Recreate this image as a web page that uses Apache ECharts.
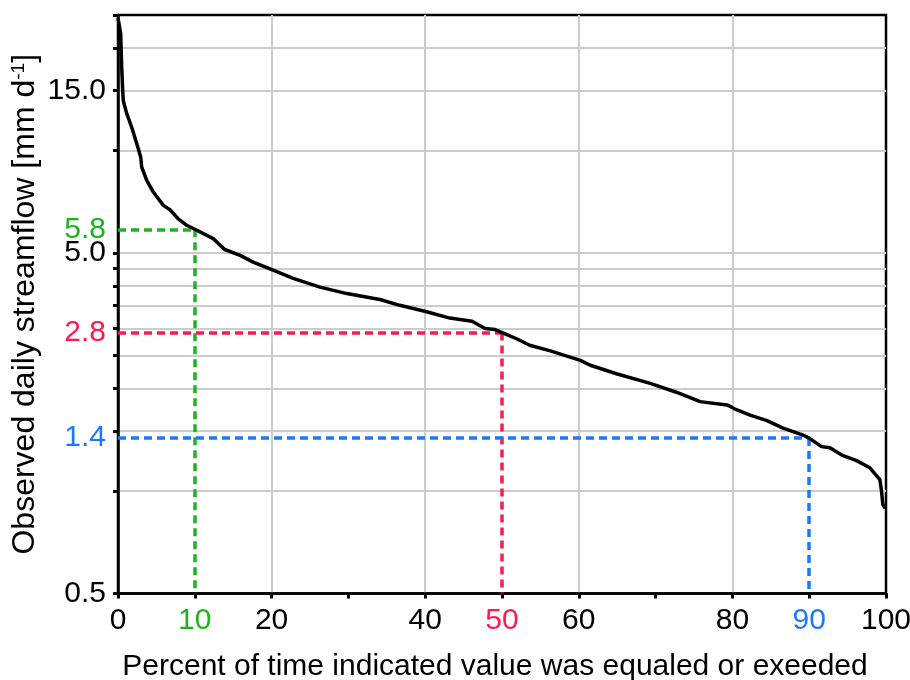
<!DOCTYPE html>
<html>
<head>
<meta charset="utf-8">
<script src="https://cdn.jsdelivr.net/npm/echarts@6/dist/echarts.min.js"></script>
<style>html,body{margin:0;padding:0;background:#fff}#c{width:910px;height:680px}</style>
</head>
<body>
<div id="c"></div>
<script>
// Flow duration curve
const percentExceeded = [0, 0.35, 0.48, 0.61, 0.69, 1.13, 1.78, 2.43, 2.96, 3.09, 3.74, 4.6, 5.9, 6.77, 7.85, 8.95, 10.0, 12.4, 13.9, 15.9, 17.6, 20.2, 22.8, 26.3, 29.8, 34.1, 36.7, 40.2, 43.2, 46.1, 47.8, 49.1, 50.0, 51.9, 53.6, 56.3, 60.2, 61.5, 64.9, 69.3, 72.7, 75.8, 79.3, 80.6, 82.3, 84.5, 86.6, 89.2, 90.0, 91.6, 92.7, 94.4, 96.1, 97.9, 99.2, 99.4, 99.6, 99.9];
const streamflow = [24.5, 22.0, 17.6, 15.0, 14.0, 12.85, 11.7, 10.5, 9.56, 8.94, 8.17, 7.55, 6.9, 6.7, 6.3, 6.03, 5.87, 5.51, 5.12, 4.92, 4.70, 4.45, 4.21, 3.97, 3.80, 3.65, 3.51, 3.36, 3.22, 3.15, 3.0, 2.98, 2.92, 2.80, 2.68, 2.58, 2.42, 2.34, 2.21, 2.07, 1.95, 1.83, 1.79, 1.73, 1.67, 1.61, 1.53, 1.46, 1.43, 1.35, 1.34, 1.27, 1.23, 1.17, 1.08, 1.006, 0.91, 0.89];

// Reference exceedance levels
const refPercent = [10, 50, 90];
const refLabels = ['5.8', '2.8', '1.4'];
const refColors = ['#1db51d', '#ff1a4d', '#1a78ff'];

// Axis ticks
const yTickValues = [0.5, 1, 1.5, 2, 2.5, 3, 3.5, 4, 4.5, 5, 10, 15, 20, 25];
const yLabelValues = [0.5, 5, 15];
const xLabelValues = [0, 10, 20, 40, 50, 60, 80, 90, 100];

const curve = percentExceeded.map((p, i) => [p, streamflow[i]]);
const yMin = 0.5;
const FONT = 'Liberation Sans';
const TICK_FS = 30;

const markData = [];
refPercent.forEach((p, k) => {
  const idx = percentExceeded.indexOf(p);
  const v = streamflow[idx];
  const ls = {color: refColors[k], width: 3.5, type: [8, 5]};
  markData.push([
    {coord: [0, v], lineStyle: ls,
     label: {show: true, position: 'start', formatter: refLabels[k], color: refColors[k], fontSize: TICK_FS, distance: 12, fontFamily: FONT}},
    {coord: [p, v]}
  ]);
  markData.push([
    {coord: [p, v], lineStyle: ls, label: {show: false}},
    {coord: [p, yMin]}
  ]);
});

const xColor = {10: 'g', 50: 'r', 90: 'b'};

const chart = echarts.init(document.getElementById('c'), null, {renderer: 'canvas'});
chart.setOption({
  animation: false,
  backgroundColor: '#fff',
  textStyle: {fontFamily: FONT},
  grid: {left: 118, right: 24, top: 15, bottom: 86.5, show: true, borderColor: '#000', borderWidth: 2.5, backgroundColor: 'transparent', containLabel: false, outerBoundsMode: 'none'},
  xAxis: {
    type: 'value', min: 0, max: 100, interval: 20,
    name: 'Percent of time indicated value was equaled or exeeded',
    nameLocation: 'middle', nameGap: 58,
    nameTextStyle: {fontSize: 30, color: '#000', fontFamily: FONT, padding: [0, 14, 0, 0]},
    axisLine: {show: true, lineStyle: {color: '#000', width: 2.5}},
    axisTick: {show: true, length: 5, lineStyle: {color: '#000', width: 3}},
    minorTick: {show: true, splitNumber: 2, length: 5, lineStyle: {color: '#000', width: 3}},
    splitLine: {show: true, showMinLine: false, showMaxLine: false, lineStyle: {color: '#cccccc', width: 2}},
    minorSplitLine: {show: false},
    axisLabel: {
      customValues: xLabelValues, margin: 12, fontSize: TICK_FS, color: '#000', fontFamily: FONT,
      formatter: v => xColor[v] ? '{' + xColor[v] + '|' + v + '}' : String(v),
      rich: {
        g: {color: refColors[0], fontSize: TICK_FS, fontFamily: FONT},
        r: {color: refColors[1], fontSize: TICK_FS, fontFamily: FONT},
        b: {color: refColors[2], fontSize: TICK_FS, fontFamily: FONT}
      }
    }
  },
  yAxis: {
    type: 'log', logBase: 10, min: 0.5, max: 25,
    name: '{t|Observed daily streamflow [mm d}{s|-1}{t|]}',
    nameLocation: 'middle', nameGap: 77, nameRotate: 90, nameMoveOverlap: false,
    nameTextStyle: {
      fontSize: 32, lineHeight: 32, color: '#000', fontFamily: FONT,
      rich: {
        t: {fontSize: 32, lineHeight: 32, color: '#000', fontFamily: FONT},
        s: {fontSize: 19, lineHeight: 32, color: '#000', fontFamily: FONT, verticalAlign: 'top', padding: [0, 0, 12, 0]}
      }
    },
    axisLine: {show: true, lineStyle: {color: '#000', width: 2.5}},
    axisTick: {show: true, customValues: yTickValues, length: 5, lineStyle: {color: '#000', width: 3}},
    splitLine: {show: true, showMinLine: false, showMaxLine: false, lineStyle: {color: '#cccccc', width: 2}},
    axisLabel: {
      customValues: yLabelValues, margin: 12, fontSize: TICK_FS, color: '#000', fontFamily: FONT,
      formatter: v => Number(v).toFixed(1)
    }
  },
  series: [{
    type: 'line',
    data: curve,
    showSymbol: false,
    symbol: 'none',
    clip: false,
    z: 5,
    lineStyle: {color: '#000', width: 3.5},
    markLine: {
      silent: true,
      symbol: ['none', 'none'],
      animation: false,
      z: 3,
      data: markData
    }
  }]
});
</script>
</body>
</html>
